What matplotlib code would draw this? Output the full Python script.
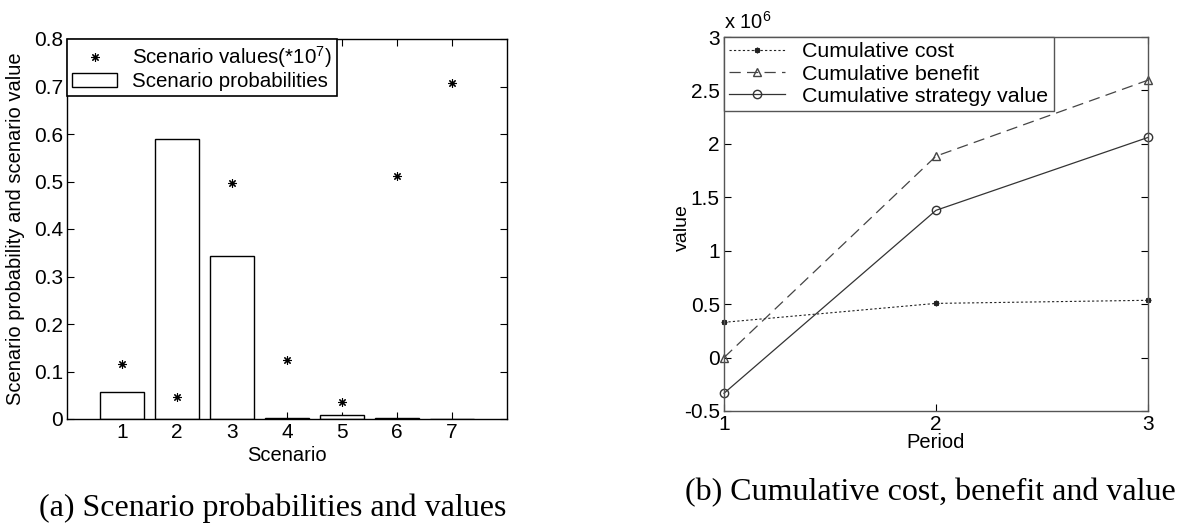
import matplotlib
matplotlib.use("Agg")
import matplotlib.pyplot as plt
from matplotlib.patches import Rectangle
from matplotlib.lines import Line2D
from matplotlib.ticker import FixedLocator, FuncFormatter

plt.rcParams['font.family'] = ['Liberation Sans', 'DejaVu Sans']
plt.rcParams['mathtext.default'] = 'regular'

# (a) scenario data
scenarios = [1, 2, 3, 4, 5, 6, 7]
probabilities = [0.056, 0.589, 0.344, 0.003, 0.009, 0.002, 0.001]
scenario_values = [0.115, 0.046, 0.496, 0.124, 0.036, 0.511, 0.707]  # in units of 1e7

# (b) cumulative results per period
periods = [1, 2, 3]
cum_cost = [330000, 507000, 536000]
cum_benefit = [0, 1885000, 2596000]
cum_value = [-334000, 1378000, 2060000]

fig = plt.figure(figsize=(11.81, 5.25), dpi=100)
fs = 15
lfs = 14.5


def matlab_axes(ax):
    ax.tick_params(direction='in', top=True, right=True, length=5, width=0.8,
                   labelsize=fs, pad=3, colors='black')
    for s in ax.spines.values():
        s.set_linewidth(1.0)
        s.set_color('black')


# ---- left panel: scenario probabilities and values ----
ax1 = fig.add_axes([67 / 1181, 106 / 525, 440 / 1181, 380 / 525])
ax1.bar(scenarios, probabilities, width=0.8, facecolor='white',
        edgecolor='black', linewidth=1.0, zorder=2)
ax1.plot(scenarios, scenario_values, linestyle='none', marker=(8, 2, 0),
         markersize=6, color='black', markeredgewidth=0.8, zorder=3)
ax1.set_xlim(0, 8)
ax1.set_ylim(0, 0.8)
ax1.xaxis.set_major_locator(FixedLocator(scenarios))
ax1.yaxis.set_major_locator(FixedLocator([0, 0.1, 0.2, 0.3, 0.4, 0.5, 0.6, 0.7, 0.8]))
ax1.yaxis.set_major_formatter(FuncFormatter(lambda v, p: '%g' % round(v, 2)))
matlab_axes(ax1)
ax1.set_xlabel('Scenario', fontsize=lfs)
ax1.xaxis.set_label_coords(0.5, -0.072)
ax1.set_ylabel('Scenario probability and scenario value', fontsize=lfs)
ax1.yaxis.set_label_coords(-0.096, 0.5)

h_star = Line2D([], [], linestyle='none', marker=(8, 2, 0), markersize=6,
                color='black', markeredgewidth=0.8)
h_bar = Rectangle((0, 0), 1, 1, facecolor='white', edgecolor='black', linewidth=1.0)
leg1 = ax1.legend([h_star, h_bar], ['Scenario values(*10$^7$)', 'Scenario probabilities'],
                  loc='upper left', bbox_to_anchor=(0, 1), borderaxespad=0,
                  fontsize=14.8, fancybox=False, framealpha=1, edgecolor='black',
                  handlelength=2.2, handletextpad=0.7, borderpad=0.25,
                  labelspacing=0.1)
leg1.get_frame().set_linewidth(1.2)

# ---- right panel: cumulative cost, benefit and value ----
ax2 = fig.add_axes([724 / 1181, 114 / 525, 424 / 1181, 374 / 525])
ax2.plot(periods, cum_cost, linestyle=(0, (2, 2)), marker=(8, 2, 0), markersize=4,
         color='#222222', linewidth=0.8, clip_on=False, label='Cumulative cost')
ax2.plot(periods, cum_benefit, linestyle=(0, (9, 5)), marker='^', markersize=6,
         markerfacecolor='none', color='#444444', linewidth=0.9, clip_on=False,
         label='Cumulative benefit')
ax2.plot(periods, cum_value, linestyle='-', marker='o', markersize=6,
         markerfacecolor='none', color='#333333', linewidth=0.9, clip_on=False,
         label='Cumulative strategy value')
ax2.set_xlim(1, 3)
ax2.set_ylim(-500000, 3000000)
ax2.xaxis.set_major_locator(FixedLocator(periods))
ax2.yaxis.set_major_locator(FixedLocator([-500000, 0, 500000, 1000000, 1500000,
                                          2000000, 2500000, 3000000]))
ax2.yaxis.set_major_formatter(FuncFormatter(lambda v, p: '%g' % (v / 1e6)))
matlab_axes(ax2)
for s in ax2.spines.values():
    s.set_color('#555555')
ax2.set_xlabel('Period', fontsize=lfs)
ax2.xaxis.set_label_coords(0.5, -0.06)
ax2.set_ylabel('value', fontsize=14)
ax2.yaxis.set_label_coords(-0.078, 0.49)
ax2.text(0.0, 1.01, 'x 10$^6$', transform=ax2.transAxes, fontsize=lfs,
         ha='left', va='bottom')
leg2 = ax2.legend(loc='upper left', bbox_to_anchor=(0, 1), borderaxespad=0,
                  fontsize=15.4, fancybox=False, framealpha=1, edgecolor='#555555',
                  handlelength=2.6, handletextpad=0.8, borderpad=0.25,
                  labelspacing=0.15)
leg2.get_frame().set_linewidth(1.0)

# ---- captions ----
serif = ['Liberation Serif', 'DejaVu Serif']
fig.text(273 / 1181, 1 - 508 / 525, '(a) Scenario probabilities and values',
         family=serif, fontsize=23, ha='center', va='center')
fig.text(930 / 1181, 1 - 493 / 525, '(b) Cumulative cost, benefit and value',
         family=serif, fontsize=23, ha='center', va='center')

fig.savefig('out.png', dpi=100, facecolor='white')
